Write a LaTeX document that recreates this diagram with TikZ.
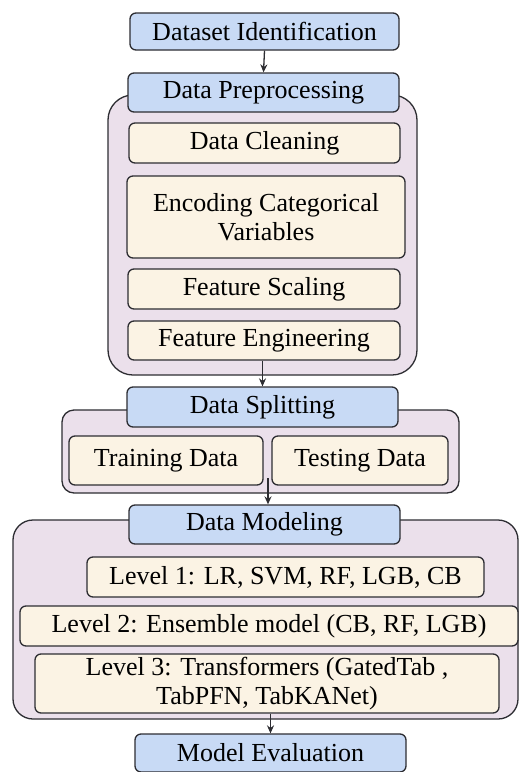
\documentclass[tikz,border=0pt]{standalone}
\usepackage{fontspec}
\setmainfont{Liberation Serif}
\usetikzlibrary{arrows.meta}
\definecolor{hdrB}{RGB}{200,218,245}
\definecolor{stepC}{RGB}{251,243,228}
\definecolor{grpP}{RGB}{235,224,235}
\definecolor{lineK}{RGB}{45,45,50}

\begin{document}
\begin{tikzpicture}[x=1pt,y=-1pt,>={Stealth[length=8pt,width=7pt]},
  grp/.style={draw=lineK,line width=1.3pt,fill=grpP},
  hdr/.style={draw=lineK,line width=1.3pt,fill=hdrB,rounded corners=6pt,inner sep=0pt,
    font=\fontsize{26}{29}\selectfont,align=center},
  stepbox/.style={draw=lineK,line width=1.3pt,fill=stepC,rounded corners=6pt,inner sep=0pt,
    font=\fontsize{26}{29}\selectfont,align=center},
  flow/.style={->,draw=lineK,line width=1.3pt}]
\useasboundingbox (0,0) rectangle (519,772);
% group panels behind the headers
\node[grp,rounded corners=25pt,minimum width=309pt,minimum height=280pt] (prepgrp) at (262.5,235) {};
\node[grp,rounded corners=12pt,minimum width=397pt,minimum height=83pt] (splitgrp) at (260.5,451.5) {};
\node[grp,rounded corners=20pt,minimum width=505pt,minimum height=199pt] (modelgrp) at (265.5,619.5) {};
% stage headers
\node[hdr,minimum width=269pt,minimum height=37pt] (ident) at (264.5,31.5) {Dataset Identification};
\node[hdr,minimum width=271pt,minimum height=39pt] (prep) at (263.5,92.5) {Data Preprocessing};
\node[hdr,minimum width=271pt,minimum height=40pt] (split) at (262.5,407) {Data Splitting};
\node[hdr,minimum width=271pt,minimum height=39pt] (model) at (264.5,524.5) {Data Modeling};
\node[hdr,minimum width=271pt,minimum height=38pt] (eval) at (270.5,753) {Model Evaluation};
% preprocessing steps
\node[stepbox,minimum width=271pt,minimum height=40pt] (clean) at (264.5,143) {Data Cleaning};
\node[stepbox,minimum width=278pt,minimum height=82pt] (enc) at (266,217) {Encoding Categorical\\Variables};
\node[stepbox,minimum width=272pt,minimum height=40pt] (scale) at (264,289) {Feature Scaling};
\node[stepbox,minimum width=272pt,minimum height=39pt] (feng) at (264,340.5) {Feature Engineering};
% splitting
\node[stepbox,minimum width=194pt,minimum height=49pt] (train) at (166,460.5) {Training Data};
\node[stepbox,minimum width=176pt,minimum height=49pt] (test) at (360,460.5) {Testing Data};
% modeling levels
\node[stepbox,minimum width=397pt,minimum height=40pt] (lvone) at (285.5,577) {Level 1: LR, SVM, RF, LGB, CB};
\node[stepbox,minimum width=498pt,minimum height=40pt] (lvtwo) at (269,626) {Level 2: Ensemble model (CB, RF, LGB)};
\node[stepbox,minimum width=464pt,minimum height=59pt] (lvthree) at (267,683.5) {Level 3: Transformers (GatedTab ,\\TabPFN, TabKANet)};
% connectors
\coordinate (splitout) at (268,478);
\draw[flow] (ident.south) -- (prep.north);
\draw[flow] (feng.south -| split.north) -- (split.north);
\draw[flow] (splitout) -- (splitout |- model.north);
\draw[flow] (lvthree.south -| eval.north) -- (eval.north);
\end{tikzpicture}
\end{document}
